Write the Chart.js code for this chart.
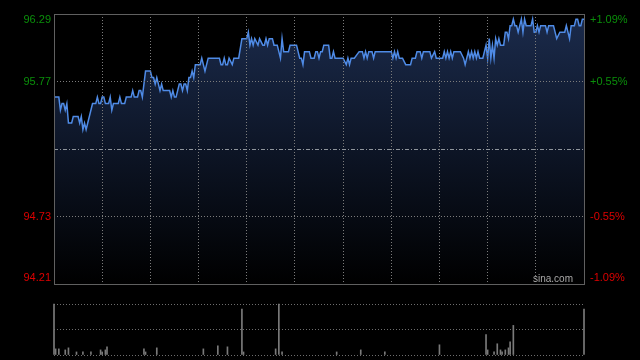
<!DOCTYPE html>
<html>
<head>
<meta charset="utf-8">
<script src="https://cdn.jsdelivr.net/npm/chart.js@4.4.1/dist/chart.umd.min.js"></script>
<style>
  html, body { margin: 0; padding: 0; background: #000; }
  #wrap { position: relative; width: 640px; height: 360px; }
  canvas { position: absolute; left: 0; top: 0; }
</style>
</head>
<body>
<div id="wrap">
  <canvas id="priceChart" width="640" height="360"></canvas>
  <canvas id="volChart" width="640" height="360"></canvas>
</div>
<script>
// previous close and axis labels
const prevClose = 95.25;
const priceTicks = [94.21, 94.73, 95.25, 95.77, 96.29];
const pctTicks = ['-1.09%', '-0.55%', '', '+0.55%', '+1.09%'];

// intraday price (minute from open, price) - turning points of the line
const minutes = [0, 3, 4, 5, 6, 7, 8, 9, 11, 12, 15, 16, 17, 18, 19, 20, 21, 24, 26, 27, 28, 29, 30, 31, 32, 34, 35, 36, 37, 40,
  41, 42, 44, 45, 48, 49, 50, 52, 53, 54, 55, 57, 60, 61, 62, 63, 64, 66, 67, 68, 72, 73, 74, 75, 76, 78, 79, 80, 81, 82,
  83, 84, 85, 86, 87, 88, 91, 92, 94, 96, 103, 104, 105, 106, 107, 108, 109, 111, 112, 115, 117, 120, 121, 122, 123, 124, 125, 127, 128, 130,
  131, 132, 133, 134, 136, 137, 139, 141, 142, 143, 146, 147, 151, 153, 154, 155, 156, 159, 160, 162, 163, 164, 165, 166, 167, 168, 171, 172, 173, 174,
  175, 180, 182, 183, 184, 185, 187, 190, 192, 193, 194, 195, 196, 198, 199, 200, 210, 211, 212, 213, 214, 215, 217, 219, 222, 223, 225, 226, 228, 229,
  230, 234, 235, 237, 238, 242, 243, 244, 245, 246, 247, 248, 249, 253, 255, 256, 258, 259, 260, 261, 262, 263, 264, 265, 267, 269, 270, 271, 272, 273,
  274, 275, 276, 277, 278, 280, 281, 282, 283, 284, 285, 286, 287, 288, 289, 291, 292, 293, 294, 297, 298, 299, 300, 301, 302, 303, 306, 307, 308, 311,
  313, 315, 318, 319, 321, 322, 324, 325, 326, 327, 328, 329, 330];
const prices = [95.65, 95.65, 95.55, 95.60, 95.60, 95.55, 95.60, 95.45, 95.45, 95.50, 95.50, 95.45, 95.50, 95.40, 95.45, 95.40, 95.45, 95.60, 95.60, 95.65, 95.60, 95.60, 95.65, 95.65, 95.60, 95.60, 95.65, 95.55, 95.60, 95.60,
  95.65, 95.60, 95.60, 95.65, 95.65, 95.70, 95.65, 95.65, 95.70, 95.70, 95.65, 95.85, 95.85, 95.80, 95.80, 95.75, 95.80, 95.70, 95.75, 95.70, 95.70, 95.65, 95.70, 95.65, 95.65, 95.75, 95.75, 95.70, 95.75, 95.75,
  95.70, 95.80, 95.80, 95.85, 95.80, 95.90, 95.90, 95.95, 95.85, 95.95, 95.95, 95.90, 95.90, 95.95, 95.90, 95.90, 95.95, 95.90, 95.95, 95.95, 96.10, 96.10, 96.15, 96.05, 96.10, 96.05, 96.10, 96.05, 96.10, 96.05,
  96.05, 96.10, 96.05, 96.10, 96.10, 96.05, 96.05, 95.95, 96.10, 96.00, 96.00, 96.05, 96.05, 95.95, 95.95, 95.90, 96.00, 96.00, 95.95, 95.95, 96.00, 96.00, 95.95, 96.00, 96.00, 96.05, 96.05, 95.95, 95.95, 96.00,
  95.95, 95.95, 95.90, 95.95, 95.90, 95.95, 95.95, 96.00, 96.00, 95.95, 96.00, 95.95, 96.00, 96.00, 95.95, 96.00, 96.00, 95.95, 96.00, 95.95, 96.00, 95.95, 95.95, 95.90, 95.90, 95.95, 95.95, 96.00, 96.00, 95.95,
  96.00, 96.00, 95.95, 96.00, 95.95, 95.95, 96.00, 95.95, 96.00, 95.95, 96.00, 95.95, 96.00, 96.00, 95.95, 95.90, 96.00, 95.95, 96.00, 95.95, 96.00, 95.95, 96.00, 95.95, 95.95, 96.05, 95.95, 96.10, 95.95, 96.05,
  95.95, 96.10, 96.05, 96.10, 96.05, 96.05, 96.15, 96.15, 96.10, 96.20, 96.20, 96.25, 96.20, 96.20, 96.15, 96.25, 96.15, 96.25, 96.20, 96.20, 96.25, 96.15, 96.15, 96.20, 96.15, 96.20, 96.20, 96.15, 96.20, 96.20,
  96.10, 96.15, 96.15, 96.20, 96.10, 96.20, 96.20, 96.25, 96.25, 96.20, 96.20, 96.25, 96.25];

// volume (minute, relative volume)
const volMinutes = [0, 1, 3, 7, 9, 14, 18, 23, 29, 30, 32, 33, 56, 57, 64, 93, 102, 108, 117, 118, 138, 140, 142,
  176, 191, 206, 240, 269, 270, 274, 276, 278, 279, 281, 283, 284, 286, 330];
const volumes = [100, 12, 12, 10, 14, 6, 6, 6, 10, 6, 10, 16, 12, 6, 14, 12, 18, 16, 90, 6, 12, 100, 6,
  6, 10, 6, 20, 40, 10, 6, 22, 10, 6, 10, 14, 26, 58, 90];

const green = '#0a8f0a';
const red = '#dd0000';
const font = '11px "Liberation Sans", Arial, sans-serif';

const priceLabels = {
  id: 'priceLabels',
  afterDraw(chart) {
    const { ctx, chartArea: a, scales: { y } } = chart;
    ctx.save();
    // frame
    ctx.strokeStyle = '#606060';
    ctx.lineWidth = 1;
    ctx.strokeRect(a.left + 0.5, a.top + 0.5, a.right - a.left, a.bottom - a.top);
    ctx.font = font;
    ctx.textBaseline = 'middle';
    priceTicks.forEach((v, i) => {
      if (v === prevClose) return;
      let py = y.getPixelForValue(v);
      py = Math.min(Math.max(py, a.top + 6), a.bottom - 6);
      ctx.fillStyle = v > prevClose ? green : red;
      ctx.textAlign = 'right';
      ctx.fillText(v.toFixed(2), a.left - 3, py);
      ctx.textAlign = 'left';
      ctx.fillText(pctTicks[i], a.right + 6, py);
    });
    ctx.fillStyle = '#a8a8a8';
    ctx.font = '10px "Liberation Sans", Arial, sans-serif';
    ctx.textAlign = 'right';
    ctx.fillText('sina.com', a.right - 11, a.bottom - 5);
    ctx.restore();
  }
};

new Chart(document.getElementById('priceChart'), {
  type: 'line',
  data: {
    datasets: [{
      data: minutes.map((m, i) => ({ x: m, y: prices[i] })),
      borderColor: '#4f8be6',
      borderWidth: 1.5,
      pointRadius: 0,
      tension: 0,
      fill: 'start',
      backgroundColor: (c) => {
        const area = c.chart.chartArea;
        if (!area) return 'rgba(0,0,0,0)';
        const g = c.chart.ctx.createLinearGradient(0, area.top, 0, area.bottom);
        g.addColorStop(0, '#1b2b4c');
        g.addColorStop(0.5, '#0d1526');
        g.addColorStop(1, '#000000');
        return g;
      }
    }]
  },
  options: {
    responsive: false,
    animation: false,
    events: [],
    layout: { padding: { left: 54, right: 56, top: 14, bottom: 76 } },
    plugins: { legend: { display: false }, tooltip: { enabled: false } },
    scales: {
      x: {
        type: 'linear', min: 0, max: 330,
        ticks: { display: false, stepSize: 30 },
        afterFit: (s) => { s.height = 0; },
        grid: {
          z: 1,
          drawTicks: false,
          color: (c) => (c.tick.value === 0 || c.tick.value === 330) ? 'rgba(0,0,0,0)' : '#7c7c7c'
        },
        border: { display: false, dash: [1, 2] }
      },
      y: {
        min: priceTicks[0], max: priceTicks[priceTicks.length - 1],
        afterBuildTicks: (s) => { s.ticks = priceTicks.map(v => ({ value: v })); },
        afterFit: (s) => { s.width = 0; },
        ticks: { display: false },
        grid: {
          z: 1,
          drawTicks: false,
          color: (c) => {
            const v = c.tick.value;
            if (v === priceTicks[0] || v === priceTicks[priceTicks.length - 1]) return 'rgba(0,0,0,0)';
            return v === prevClose ? '#8f959c' : '#7c7c7c';
          }
        },
        border: {
          display: false,
          dash: (c) => (c.tick && c.tick.value === prevClose) ? [4, 2, 1, 2] : [1, 2]
        }
      }
    }
  },
  plugins: [priceLabels]
});

new Chart(document.getElementById('volChart'), {
  type: 'bar',
  data: {
    datasets: [{
      data: volMinutes.map((m, i) => ({ x: m, y: volumes[i] })),
      backgroundColor: '#7a7a7a',
      barThickness: 1,
      clip: false
    }]
  },
  options: {
    responsive: false,
    animation: false,
    events: [],
    layout: { padding: { left: 54, right: 56, top: 304, bottom: 5 } },
    plugins: { legend: { display: false }, tooltip: { enabled: false } },
    scales: {
      x: {
        type: 'linear', min: 0, max: 330,
        offset: false,
        ticks: { display: false },
        afterFit: (s) => { s.height = 0; },
        grid: { display: false },
        border: { display: false }
      },
      y: {
        min: 0, max: 100,
        ticks: { display: false, stepSize: 50 },
        afterFit: (s) => { s.width = 0; },
        grid: { drawTicks: false, color: '#6e6e6e' },
        border: { display: false, dash: [1, 2] }
      }
    }
  }
});
</script>
</body>
</html>
